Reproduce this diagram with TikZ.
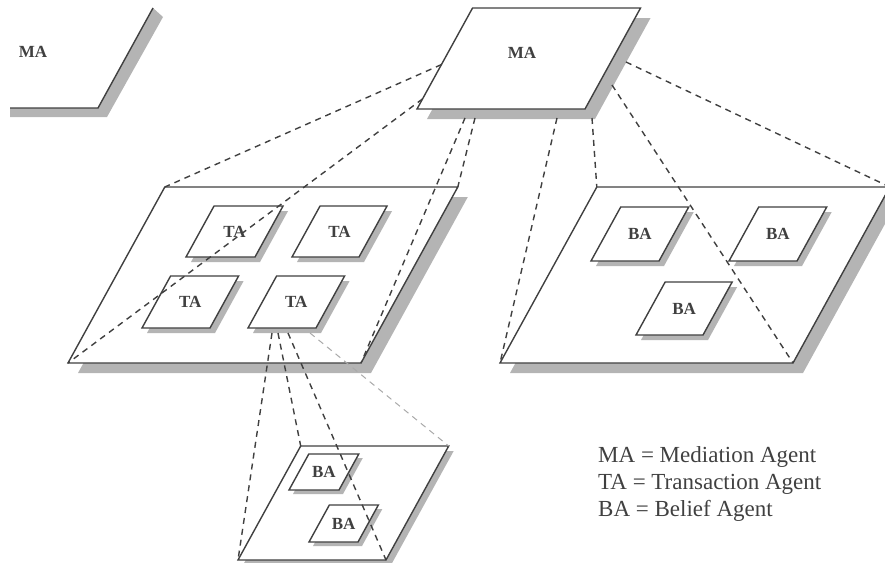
\documentclass[tikz,border=0pt]{standalone}
\usepackage{fontspec}
\setmainfont{Liberation Serif}
\usetikzlibrary{calc}

\definecolor{inkgray}{HTML}{404040}
\definecolor{shadowgray}{HTML}{B4B4B4}

\tikzset{
  planeline/.style={draw=inkgray, line width=1.4pt, fill=white, line join=miter},
  planeshadow/.style={fill=shadowgray},
  agentlabel/.style={text=inkgray, font=\fontsize{17}{17}\selectfont\bfseries, inner sep=0pt},
  legendtext/.style={text=inkgray, font=\fontsize{23}{27}\selectfont, inner sep=0pt, anchor=base west},
  link/.style={draw=inkgray, line width=1.4pt, dash pattern=on 6pt off 5pt},
  faintlink/.style={draw=inkgray!45, line width=1pt, dash pattern=on 6pt off 5pt}
}

% plane: name, bottom-left x, bottom-left y, width, height, shadow offset
\newcommand{\agentplane}[6]{%
  \coordinate (#1-bl) at (#2,#3);
  \coordinate (#1-br) at ({#2+#4},#3);
  \coordinate (#1-tr) at ({#2+#4+0.55*#5},{#3-#5});
  \coordinate (#1-tl) at ({#2+0.55*#5},{#3-#5});
  \fill[planeshadow] ([shift={(#6,#6)}]#1-bl) -- ([shift={(#6,#6)}]#1-br)
    -- ([shift={(#6,#6)}]#1-tr) -- ([shift={(#6,#6)}]#1-tl) -- cycle;
  \path[planeline] (#1-bl) -- (#1-br) -- (#1-tr) -- (#1-tl) -- cycle;
}

\begin{document}
\begin{tikzpicture}[x=1pt,y=-1pt]
  \useasboundingbox (0,0) rectangle (885,562);
  \clip (0,0) rectangle (885,562);

  % cut-off mediation agent on the left
  \coordinate (mal-tr) at (153,8);
  \coordinate (mal-br) at (98,108);
  \coordinate (mal-bl) at (10,108);
  \fill[planeshadow] (mal-bl) -- (mal-br) -- (mal-tr) -- (163,17) -- (107,117) -- (10,117) -- cycle;
  \draw[planeline, fill=none] (mal-tr) -- (mal-br) -- (mal-bl);

  % planes
  \agentplane{ma}{417}{109}{168}{101}{10}
  \agentplane{tap}{68}{363}{293}{176}{10}
  \agentplane{bap}{500}{363}{293}{176}{10}
  \agentplane{bot}{238}{560}{148}{114}{5}

  % agents on the planes
  \agentplane{ta1}{186}{257}{69}{51}{5}
  \agentplane{ta2}{292}{257}{67}{51}{5}
  \agentplane{ta3}{142}{328}{68}{52}{5}
  \agentplane{ta4}{248}{328}{68}{52}{5}
  \agentplane{ba1}{591}{261}{68}{54}{5}
  \agentplane{ba2}{729}{261}{68}{54}{5}
  \agentplane{ba3}{636}{335}{67}{53}{5}
  \agentplane{ba4}{289}{490}{50}{36}{4}
  \agentplane{ba5}{309}{542}{49}{37}{4}

  \begin{scope}[every node/.style={agentlabel}]
    \node (mal-name) at (33,52) {MA};
    \node (ma-name) at (522,53) {MA};
    \node (ta1-name) at ($(ta1-bl)!0.5!(ta1-tr)$) {TA};
    \node (ta2-name) at ($(ta2-bl)!0.5!(ta2-tr)$) {TA};
    \node (ta3-name) at ($(ta3-bl)!0.5!(ta3-tr)$) {TA};
    \node (ta4-name) at ($(ta4-bl)!0.5!(ta4-tr)$) {TA};
    \node (ba1-name) at ($(ba1-bl)!0.5!(ba1-tr)$) {BA};
    \node (ba2-name) at ($(ba2-bl)!0.5!(ba2-tr)$) {BA};
    \node (ba3-name) at ($(ba3-bl)!0.5!(ba3-tr)$) {BA};
    \node (ba4-name) at ($(ba4-bl)!0.5!(ba4-tr)$) {BA};
    \node (ba5-name) at ($(ba5-bl)!0.5!(ba5-tr)$) {BA};
  \end{scope}

  % where the dashed links leave their agent
  \coordinate (ma-s1) at ($(ma-bl)!0.44!(ma-tl)$);
  \coordinate (ma-s2) at ($(ma-bl)!0.1!(ma-tl)$);
  \coordinate (ma-s3) at (465,118);
  \coordinate (ma-s4) at (475,118);
  \coordinate (ma-s5) at (557,118);
  \coordinate (ma-s6) at (592,118);
  \coordinate (ma-s7) at (612,85);
  \coordinate (ma-s8) at (626,62);
  \coordinate (ta4-s1) at (272,333);
  \coordinate (ta4-s2) at (278,333);
  \coordinate (ta4-s3) at (288,333);
  \coordinate (ta4-s4) at (310,333);

  \begin{scope}[every edge/.style={link}]
    \path (ma-s1) edge (tap-tl);
    \path (ma-s2) edge (tap-bl);
    \path (ma-s3) edge (tap-br);
    \path (ma-s4) edge (tap-tr);
    \path (ma-s5) edge (bap-bl);
    \path (ma-s6) edge (bap-tl);
    \path (ma-s7) edge (bap-br);
    \path (ma-s8) edge (bap-tr);
    \path (ta4-s1) edge (bot-bl);
    \path (ta4-s2) edge (bot-tl);
    \path (ta4-s3) edge (bot-br);
    \path (ta4-s4) edge[faintlink] (bot-tr);
  \end{scope}

  % legend
  \node[legendtext] (legend-ma) at (598,462) {MA = Mediation Agent};
  \node[legendtext] (legend-ta) at (598,489) {TA = Transaction Agent};
  \node[legendtext] (legend-ba) at (598,516) {BA = Belief Agent};
\end{tikzpicture}
\end{document}
